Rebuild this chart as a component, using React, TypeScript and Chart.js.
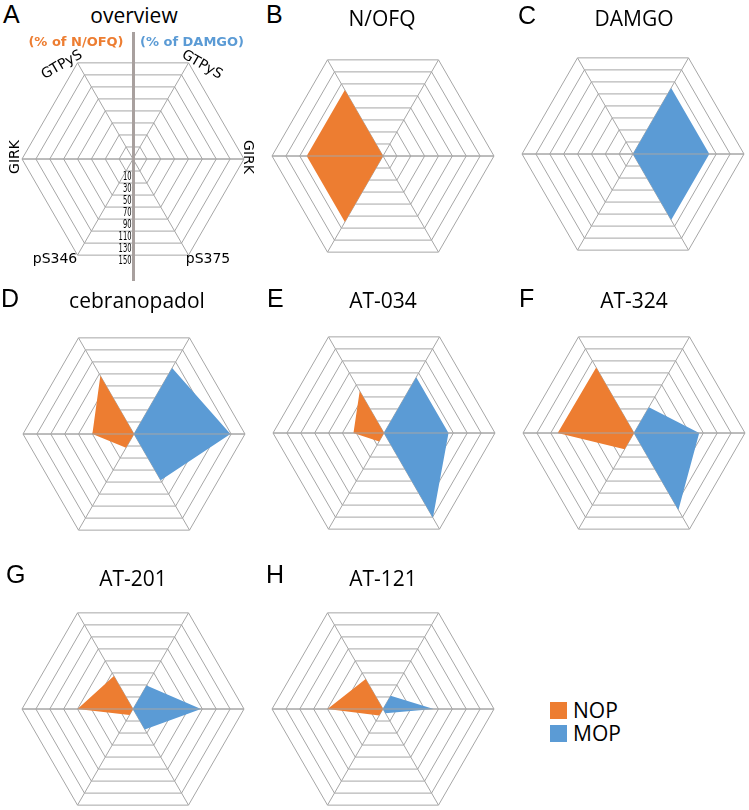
import React, { useEffect, useRef } from "react";
import { Chart, registerables } from "chart.js";

Chart.register(...registerables);

// Axes clockwise from the upper-right vertex: MOP GTPyS, MOP GIRK, MOP pS375, NOP pS346, NOP GIRK, NOP GTPyS
const AXIS_NAMES = ["GTPyS", "GIRK", "pS375", "pS346", "GIRK", "GTPyS"];
const SCALE_MIN = -10;
const SCALE_MAX = 150;
const SCALE_STEP = 20;
const TICK_LABELS = ["10", "30", "50", "70", "90", "110", "130", "150"];

const COMPOUNDS = ["N/OFQ", "DAMGO", "cebranopadol", "AT-034", "AT-324", "AT-201", "AT-121"];
// NOP responses (% of N/OFQ); null = no response (centre)
const NOP_GTPYS = [100, null, 87, 60, 99, 45, 40];
const NOP_GIRK = [100, null, 50, 34, 100, 70, 70];
const NOP_PS346 = [100, null, 13, 4, 17, 0, 1];
// MOP responses (% of DAMGO)
const MOP_GTPYS = [null, 100, 100, 83, 33, 29, 12];
const MOP_GIRK = [null, 100, 129, 83, 84, 88, 63];
const MOP_PS375 = [null, 100, 67, 131, 118, 24, -3];

const SERIES_NAMES = ["NOP", "MOP"];
const NOP_COLOR = "#ed7d31";
const MOP_COLOR = "#5b9bd5";
const GRID_COLOR = "#a6a6a6";

const CANVAS = 250;
const PAD = 14;

// layout only
const LAYOUT = [
  { letter: "A", idx: null as number | null, cx: 133, cy: 159, lx: 3, ly: 2, tx: 134, ty: 4.5 },
  { letter: "B", idx: 0, cx: 383, cy: 156, lx: 266, ly: 2, tx: 382, ty: 7.5 },
  { letter: "C", idx: 1, cx: 633, cy: 154, lx: 518, ly: 3, tx: 634, ty: 7.5 },
  { letter: "D", idx: 2, cx: 134, cy: 434, lx: 1, ly: 285.5, tx: 137, ty: 290 },
  { letter: "E", idx: 3, cx: 384, cy: 433, lx: 267, ly: 285.5, tx: 383, ty: 290 },
  { letter: "F", idx: 4, cx: 634, cy: 433, lx: 519, ly: 285.5, tx: 634, ty: 290 },
  { letter: "G", idx: 5, cx: 133, cy: 709, lx: 6, ly: 562, tx: 133, ty: 568 },
  { letter: "H", idx: 6, cx: 383, cy: 709, lx: 266, ly: 562, tx: 383, ty: 568 },
];

// overview axis label placement relative to the centre (dx, dy, rotation deg)
const LABEL_OFFSETS = [
  [69, -94, 30],
  [115, -2, 90],
  [75, 100, 0],
  [-78, 100, 0],
  [-118, -2, -90],
  [-71, -94, -30],
];

const centerLinePlugin = {
  id: "centerLine",
  afterDatasetsDraw(chart: any) {
    const r = chart.scales.r;
    const ctx = chart.ctx;
    const a = r.getPointPositionForValue(4, SCALE_MAX);
    const b = r.getPointPositionForValue(1, SCALE_MAX);
    ctx.save();
    ctx.strokeStyle = GRID_COLOR;
    ctx.lineWidth = 1;
    ctx.beginPath();
    ctx.moveTo(a.x, a.y);
    ctx.lineTo(b.x, b.y);
    ctx.stroke();
    ctx.restore();
  },
};

const overviewPlugin = {
  id: "overviewLabels",
  afterDraw(chart: any) {
    const r = chart.scales.r;
    const ctx = chart.ctx;
    const cx = r.xCenter;
    const cy = r.yCenter;
    ctx.save();
    ctx.fillStyle = "#000";
    ctx.font = '14px "DejaVu Sans"';
    ctx.textAlign = "center";
    ctx.textBaseline = "middle";
    (chart.data.labels as string[]).forEach((lab, i) => {
      const [dx, dy, rot] = LABEL_OFFSETS[i];
      ctx.save();
      ctx.translate(cx + dx, cy + dy);
      ctx.rotate((rot * Math.PI) / 180);
      ctx.fillText(lab, 0, 0);
      ctx.restore();
    });
    ctx.font = '12px "DejaVu Sans"';
    ctx.textAlign = "right";
    ctx.textBaseline = "middle";
    TICK_LABELS.forEach((t) => {
      const d = r.getDistanceFromCenterForValue(Number(t)) * Math.cos(Math.PI / 6);
      ctx.fillText(t, cx - 1.5, cy + d + 6, t.length * 4.3);
    });
    ctx.restore();
  },
};

const v = (x: number | null) => (x === null ? SCALE_MIN : x);

function Radar({ idx, cx, cy }: { idx: number | null; cx: number; cy: number }) {
  const ref = useRef<HTMLCanvasElement | null>(null);
  useEffect(() => {
    const canvas = ref.current;
    if (!canvas) return;
    const base = {
      fill: "start",
      borderWidth: 0,
      borderColor: "rgba(0,0,0,0)",
      pointRadius: 0,
      pointHoverRadius: 0,
    };
    const datasets =
      idx === null
        ? []
        : [
            {
              ...base,
              label: SERIES_NAMES[0],
              backgroundColor: NOP_COLOR,
              data: [SCALE_MIN, SCALE_MIN, SCALE_MIN, v(NOP_PS346[idx]), v(NOP_GIRK[idx]), v(NOP_GTPYS[idx])],
            },
            {
              ...base,
              label: SERIES_NAMES[1],
              backgroundColor: MOP_COLOR,
              data: [v(MOP_GTPYS[idx]), v(MOP_GIRK[idx]), v(MOP_PS375[idx]), SCALE_MIN, SCALE_MIN, SCALE_MIN],
            },
          ];
    const chart = new Chart(canvas, {
      type: "radar",
      data: { labels: AXIS_NAMES, datasets: datasets as any },
      options: {
        responsive: false,
        animation: false,
        devicePixelRatio: 1,
        events: [],
        layout: { padding: PAD },
        plugins: { legend: { display: false }, tooltip: { enabled: false }, title: { display: false } },
        scales: {
          r: {
            min: SCALE_MIN,
            max: SCALE_MAX,
            startAngle: 30,
            beginAtZero: false,
            ticks: { display: false, stepSize: SCALE_STEP },
            grid: { color: GRID_COLOR, lineWidth: 1 },
            angleLines: { display: true, color: GRID_COLOR, lineWidth: 1 },
            pointLabels: { display: false },
          },
        },
      } as any,
      plugins: idx === null ? [centerLinePlugin, overviewPlugin] : [centerLinePlugin],
    });
    return () => chart.destroy();
  }, [idx]);
  return (
    <canvas
      ref={ref}
      width={CANVAS}
      height={CANVAS}
      style={{ position: "absolute", left: cx - CANVAS / 2, top: cy - CANVAS / 2, width: CANVAS, height: CANVAS }}
    />
  );
}

export default function App() {
  const titleFont = '"Open Sans", sans-serif';
  const pctStyle = {
    position: "absolute" as const,
    width: 130,
    top: 34.5,
    textAlign: "center" as const,
    fontFamily: '"DejaVu Sans", sans-serif',
    fontWeight: "bold" as const,
    fontSize: 13,
    lineHeight: 1,
    whiteSpace: "nowrap" as const,
  };
  return (
    <div style={{ position: "fixed", left: 0, top: 0, width: 749, height: 810, background: "#fff", overflow: "hidden" }}>
      {LAYOUT.map((p) => (
        <React.Fragment key={p.letter}>
          <Radar idx={p.idx} cx={p.cx} cy={p.cy} />
          <div
            style={{
              position: "absolute",
              left: p.lx,
              top: p.ly,
              fontFamily: '"Liberation Sans", Arial, sans-serif',
              fontSize: 25,
              lineHeight: 1,
              color: "#000",
            }}
          >
            {p.letter}
          </div>
          <div
            style={{
              position: "absolute",
              left: p.tx - 110,
              width: 220,
              top: p.ty,
              textAlign: "center",
              fontFamily: titleFont,
              fontSize: 21,
              lineHeight: 1,
              color: "#000",
              whiteSpace: "nowrap",
            }}
          >
            {p.idx === null ? "overview" : COMPOUNDS[p.idx]}
          </div>
        </React.Fragment>
      ))}
      <div style={{ position: "absolute", left: 132, top: 32, width: 3, height: 249, background: "#a8a09e" }} />
      <div style={{ ...pctStyle, left: 76 - 65, color: NOP_COLOR }}>(% of N/OFQ)</div>
      <div style={{ ...pctStyle, left: 192 - 65, color: MOP_COLOR }}>(% of DAMGO)</div>
      {SERIES_NAMES.map((name, i) => (
        <React.Fragment key={name}>
          <div
            style={{
              position: "absolute",
              left: 550,
              top: 702 + i * 23,
              width: 17,
              height: 17,
              background: i === 0 ? NOP_COLOR : MOP_COLOR,
            }}
          />
          <div
            style={{
              position: "absolute",
              left: 573,
              top: 699.5 + i * 23,
              fontFamily: titleFont,
              fontSize: 21,
              lineHeight: 1,
              color: "#000",
            }}
          >
            {name}
          </div>
        </React.Fragment>
      ))}
    </div>
  );
}
